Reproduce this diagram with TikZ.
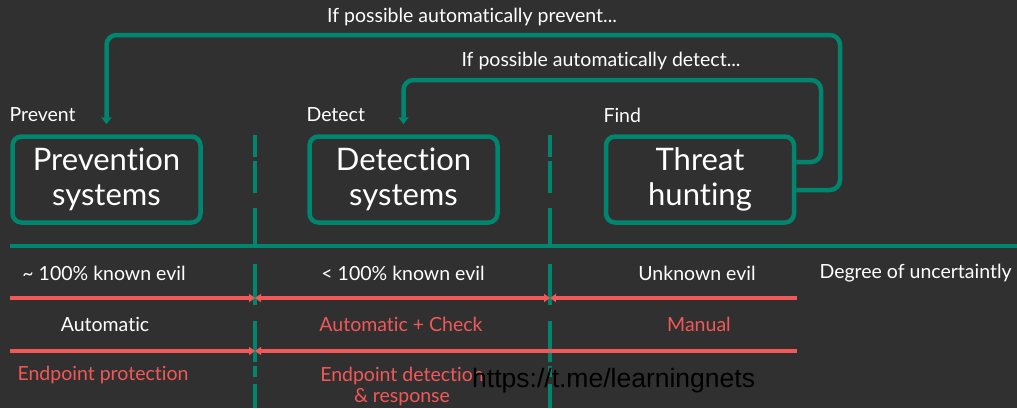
\documentclass[tikz,border=0pt]{standalone}
\usepackage{fontspec}
\setmainfont{Lato}[Ligatures={NoCommon}]
\newfontfamily\wmfont{Liberation Sans}
\usetikzlibrary{arrows.meta}
\definecolor{bgdark}{RGB}{48,48,48}
\definecolor{kteal}{RGB}{0,133,111}
\definecolor{kred}{RGB}{242,88,88}
\tikzset{
  sysbox/.style={draw=kteal, line width=4.5pt, rounded corners=9pt, minimum width=188pt, minimum height=86pt, align=center, text=white, font=\fontsize{31}{35}\selectfont},
  tag/.style={text=white, font=\fontsize{19.5}{22}\selectfont, anchor=west},
  cell/.style={text=white, font=\fontsize{19.5}{22}\selectfont, align=center},
  feedback/.style={draw=kteal, line width=4.5pt, rounded corners=10pt, -{Triangle[width=10pt,length=7pt]}},
  divider/.style={draw=kteal, line width=4.3pt},
  redline/.style={draw=kred, line width=4pt},
  redtip/.tip={Triangle[width=8pt,length=6pt]}
}
\begin{document}
\begin{tikzpicture}[x=1pt,y=-1pt]
\fill[bgdark] (0,0) rectangle (1017,408);
\useasboundingbox (0,0) rectangle (1017,408);

% dividers between the columns
\foreach \xx in {255,550}
  \foreach \ya/\yb in {135/157,161/193,208/248,264/305,321/362,366/377,384/408}
    \draw[divider] (\xx,\ya) -- (\xx,\yb);
\draw[kteal, line width=4.3pt] (10,246) -- (1017,246);

% systems
\node[tag] (prevtag) at (6,115) {Prevent};
\node[tag] (dettag) at (303,115) {Detect};
\node[tag] (findtag) at (600,115) {Find};
\node[sysbox] (prev) at (106.5,179.5) {Prevention\\systems};
\node[sysbox] (det) at (403.5,179.5) {Detection\\systems};
\node[sysbox] (hunt) at (700,179.5) {Threat\\hunting};

% feedback loops
\node[cell] (preventlbl) at (472,17) {If possible automatically prevent...};
\node[cell] (detectlbl) at (601,61) {If possible automatically detect...};
\draw[feedback] ([yshift=-10.5pt]hunt.east) -| (840,35) -| ([yshift=10pt]prev.north);
\draw[feedback] ([yshift=17.5pt]hunt.east) -| (821,80) -| ([yshift=10pt]det.north);

% rows
\node[cell] (known) at (104,273) {\textasciitilde\ 100\% known evil};
\node[cell] (partly) at (403,273) {< 100\% known evil};
\node[cell] (unknown) at (697,273) {Unknown evil};
\node[cell, anchor=west] (degree) at (816,273) {Degree of uncertaintly};
\draw[redline, -{redtip}] (10,298) -- (255,298);
\draw[redline, {redtip}-{redtip}] (255,298) -- (550,298);
\draw[redline, {redtip}-] (550,298) -- (797,298);
\node[cell] (auto) at (105,324) {Automatic};
\node[cell, text=kred] (check) at (401,324) {Automatic + Check};
\node[cell, text=kred] (manual) at (699,324) {Manual};
\draw[redline, -{redtip}] (10,351) -- (255,351);
\draw[redline, {redtip}-] (255,351) -- (797,351);
\node[cell, text=kred] (epp) at (103,375) {Endpoint protection};
\node[cell, text=kred] (edr) at (402,386) {Endpoint detection\\[-1pt]\& response};
\node[anchor=west, inner sep=0pt, font=\wmfont\fontsize{26.5}{30}\selectfont, text=black] (wm) at (472,381) {https://t.me/learningnets};
\end{tikzpicture}
\end{document}
